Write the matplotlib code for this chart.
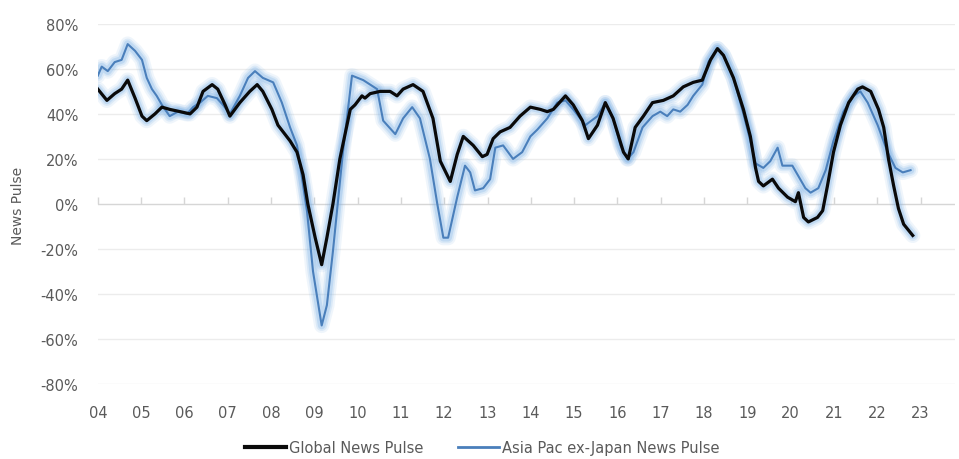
import matplotlib
matplotlib.use("Agg")
import matplotlib.pyplot as plt
from matplotlib.lines import Line2D

# ---- data (decimal year, % value) ----
global_years = [2004.00, 2004.21, 2004.39, 2004.55, 2004.69, 2004.86, 2005.02, 2005.13, 2005.32, 2005.48,
                2005.66, 2005.90, 2006.13, 2006.29, 2006.43, 2006.64, 2006.77, 2006.94, 2007.05, 2007.28,
                2007.51, 2007.68, 2007.81, 2008.02, 2008.16, 2008.44, 2008.60, 2008.74, 2008.85, 2009.02,
                2009.17, 2009.29, 2009.43, 2009.59, 2009.83, 2009.94, 2010.10, 2010.17, 2010.29, 2010.52,
                2010.75, 2010.91, 2011.05, 2011.28, 2011.51, 2011.74, 2011.91, 2012.14, 2012.30, 2012.44,
                2012.67, 2012.88, 2012.99, 2013.13, 2013.29, 2013.52, 2013.75, 2013.99, 2014.22, 2014.38,
                2014.52, 2014.80, 2014.98, 2015.19, 2015.33, 2015.54, 2015.72, 2015.90, 2016.14, 2016.25,
                2016.41, 2016.60, 2016.81, 2017.06, 2017.29, 2017.52, 2017.75, 2017.96, 2018.15, 2018.31,
                2018.45, 2018.68, 2018.91, 2019.07, 2019.19, 2019.26, 2019.37, 2019.58, 2019.72, 2019.93,
                2020.11, 2020.18, 2020.30, 2020.41, 2020.62, 2020.74, 2020.85, 2020.99, 2021.15, 2021.34,
                2021.55, 2021.66, 2021.85, 2022.03, 2022.15, 2022.26, 2022.38, 2022.49, 2022.61, 2022.82]
global_values = [51, 46, 49, 51, 55, 47, 39, 37, 40, 43,
                 42, 41, 40, 43, 50, 53, 51, 44, 39, 45,
                 50, 53, 50, 42, 35, 28, 23, 13, 0, -15,
                 -27, -15, 0, 20, 42, 44, 48, 47, 49, 50,
                 50, 48, 51, 53, 50, 38, 19, 10, 22, 30,
                 26, 21, 22, 29, 32, 34, 39, 43, 42, 41,
                 42, 48, 44, 37, 29, 35, 45, 38, 23, 20,
                 34, 39, 45, 46, 48, 52, 54, 55, 64, 69,
                 66, 56, 42, 30, 16, 10, 8, 11, 7, 3,
                 1, 5, -6, -8, -6, -3, 8, 23, 35, 45,
                 51, 52, 50, 42, 34, 20, 8, -2, -9, -14]

asia_years = [2004.00, 2004.09, 2004.23, 2004.39, 2004.55, 2004.69, 2004.86, 2005.02, 2005.13, 2005.25,
              2005.36, 2005.48, 2005.66, 2005.85, 2006.06, 2006.20, 2006.36, 2006.54, 2006.75, 2006.89,
              2007.05, 2007.28, 2007.47, 2007.63, 2007.81, 2008.05, 2008.25, 2008.44, 2008.60, 2008.72,
              2008.83, 2008.97, 2009.17, 2009.29, 2009.43, 2009.66, 2009.87, 2010.13, 2010.45, 2010.59,
              2010.87, 2011.05, 2011.26, 2011.44, 2011.67, 2011.84, 2011.98, 2012.09, 2012.30, 2012.48,
              2012.60, 2012.71, 2012.90, 2013.06, 2013.18, 2013.36, 2013.59, 2013.80, 2013.99, 2014.15,
              2014.38, 2014.61, 2014.80, 2014.98, 2015.26, 2015.54, 2015.72, 2015.90, 2016.07, 2016.23,
              2016.37, 2016.58, 2016.81, 2016.99, 2017.15, 2017.29, 2017.45, 2017.62, 2017.75, 2017.96,
              2018.10, 2018.31, 2018.45, 2018.68, 2018.91, 2019.07, 2019.19, 2019.37, 2019.53, 2019.70,
              2019.81, 2020.04, 2020.16, 2020.34, 2020.46, 2020.64, 2020.81, 2020.99, 2021.22, 2021.45,
              2021.61, 2021.78, 2022.01, 2022.24, 2022.42, 2022.59, 2022.77]
asia_values = [57, 61, 59, 63, 64, 71, 68, 64, 56, 51,
               48, 44, 39, 41, 40, 43, 45, 48, 47, 44,
               40, 48, 56, 59, 56, 54, 45, 34, 26, 11,
               -3, -30, -54, -45, -21, 23, 57, 55, 51, 37,
               31, 38, 43, 38, 20, 0, -15, -15, 3, 17,
               14, 6, 7, 11, 25, 26, 20, 23, 30, 33,
               38, 45, 46, 42, 35, 39, 45, 38, 26, 20,
               23, 34, 39, 41, 39, 42, 41, 44, 48, 53,
               63, 69, 66, 56, 40, 28, 18, 16, 19, 25,
               17, 17, 13, 7, 5, 7, 15, 28, 41, 48,
               50, 45, 35, 23, 16, 14, 15]

year_ticks = list(range(2004, 2024))
year_labels = [f"{y % 100:02d}" for y in year_ticks]
pct_ticks = [-80, -60, -40, -20, 0, 20, 40, 60, 80]
pct_labels = [f"{v}%" for v in pct_ticks]

series_names = ["Global News Pulse", "Asia Pac ex-Japan News Pulse"]

# ---- style ----
plt.rcParams['font.family'] = ['DejaVu Sans']
text_col = '#5a5a5a'
black = '#0a0a0a'
blue = '#4a7fbb'
glow = '#7fb3e6'

fig = plt.figure(figsize=(9.59, 4.60), dpi=100)
ax = fig.add_axes([0.102, 0.163, 0.894, 0.783])

# glow halos
for lw, a in [(11, 0.12), (8, 0.18), (5.5, 0.28)]:
    ax.plot(asia_years, asia_values, color=glow, lw=lw, alpha=a, solid_capstyle='round', zorder=2)
    ax.plot(global_years, global_values, color=glow, lw=lw, alpha=a, solid_capstyle='round', zorder=2)

ax.plot(asia_years, asia_values, color=blue, lw=1.5, zorder=4, solid_joinstyle='round')
ax.plot(global_years, global_values, color=black, lw=2.3, zorder=5, solid_joinstyle='round')

ax.set_xlim(2004, 2023.8)
ax.set_ylim(-80, 80)

for v in pct_ticks:
    ax.axhline(v, color='#d6d6d6' if v == 0 else '#ececec', lw=1.0, zorder=1)

for s in ax.spines.values():
    s.set_visible(False)

ax.set_yticks(pct_ticks)
ax.set_yticklabels(pct_labels)
ax.set_xticks(year_ticks)
ax.set_xticklabels(year_labels)
ax.tick_params(axis='y', length=0, pad=14, labelsize=10.5, labelcolor=text_col)
ax.tick_params(axis='x', length=0, pad=15, labelsize=10.5, labelcolor=text_col)

# small tick marks hanging below the 0% line
sec = ax.secondary_xaxis(0.5)
sec.set_xticks(year_ticks)
sec.set_xticklabels([])
sec.tick_params(axis='x', length=5, width=1, color='#d6d6d6', direction='out')
for s in sec.spines.values():
    s.set_visible(False)

fig.text(0.019, 0.552, "News Pulse", rotation=90, ha='center', va='center',
         fontsize=10, color=text_col)

handles = [Line2D([0], [0], color=black, lw=3),
           Line2D([0], [0], color=blue, lw=2)]
fig.legend(handles, series_names, loc='center', bbox_to_anchor=(0.503, 0.025),
           ncol=2, frameon=False, fontsize=10.5, labelcolor=text_col,
           handlelength=2.8, handletextpad=0.2, columnspacing=2.4)

fig.savefig("out.png", dpi=100)
